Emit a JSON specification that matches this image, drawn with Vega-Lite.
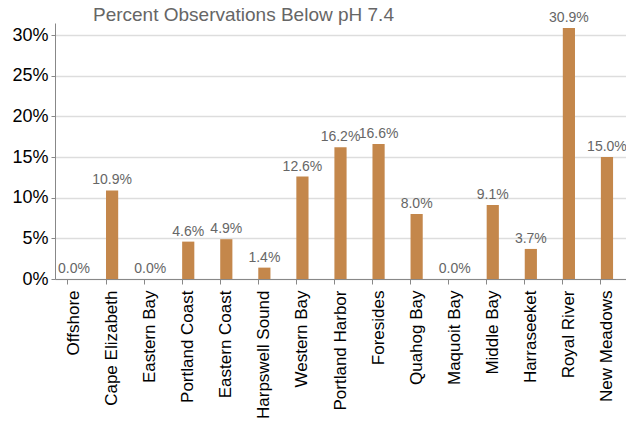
{
  "$schema": "https://vega.github.io/schema/vega-lite/v6.json",
  "autosize": "none",
  "padding": {"left": 55, "top": 23, "right": 0, "bottom": 142},
  "width": 571,
  "height": 256,
  "background": "white",
  "title": {
    "text": "Percent Observations Below pH 7.4",
    "anchor": "start",
    "dx": 81,
    "offset": -14,
    "font": "Liberation Sans",
    "fontSize": 19,
    "fontWeight": "normal",
    "color": "#666666"
  },
  "data": {
    "values": [
      {"site": "Offshore", "pct": 0.0},
      {"site": "Cape Elizabeth", "pct": 0.109},
      {"site": "Eastern Bay", "pct": 0.0},
      {"site": "Portland Coast", "pct": 0.046},
      {"site": "Eastern Coast", "pct": 0.049},
      {"site": "Harpswell Sound", "pct": 0.014},
      {"site": "Western Bay", "pct": 0.126},
      {"site": "Portland Harbor", "pct": 0.162},
      {"site": "Foresides", "pct": 0.166},
      {"site": "Quahog Bay", "pct": 0.08},
      {"site": "Maquoit Bay", "pct": 0.0},
      {"site": "Middle Bay", "pct": 0.091},
      {"site": "Harraseeket", "pct": 0.037},
      {"site": "Royal River", "pct": 0.309},
      {"site": "New Meadows", "pct": 0.15}
    ]
  },
  "config": {
    "view": {"stroke": null},
    "font": "Liberation Sans"
  },
  "encoding": {
    "x": {
      "field": "site",
      "type": "nominal",
      "sort": null,
      "scale": {"paddingInner": 0.68, "paddingOuter": 0.34},
      "axis": {
        "title": null,
        "labelAngle": -90,
        "labelAlign": "right",
        "labelBaseline": "middle",
        "labelFontSize": 17,
        "labelColor": "#000000",
        "labelPadding": 6,
        "bandPosition": 0,
        "ticks": true,
        "tickSize": 5,
        "tickColor": "#888888",
        "domainColor": "#888888",
        "grid": false
      }
    },
    "y": {
      "field": "pct",
      "type": "quantitative",
      "scale": {"domain": [0, 0.315], "nice": false},
      "axis": {
        "title": null,
        "values": [0, 0.05, 0.1, 0.15, 0.2, 0.25, 0.3],
        "format": ".0%",
        "labelFontSize": 18,
        "labelColor": "#000000",
        "labelPadding": 3,
        "tickSize": 4,
        "tickColor": "#888888",
        "domainColor": "#888888",
        "gridColor": "#dddddd",
        "gridWidth": 1.5
      }
    }
  },
  "layer": [
    {
      "mark": {"type": "bar", "color": "#C4874B"}
    },
    {
      "mark": {"type": "text", "baseline": "bottom", "dy": -3, "fontSize": 14, "color": "#666666"},
      "encoding": {
        "text": {"field": "pct", "type": "quantitative", "format": ".1%"}
      }
    }
  ]
}
